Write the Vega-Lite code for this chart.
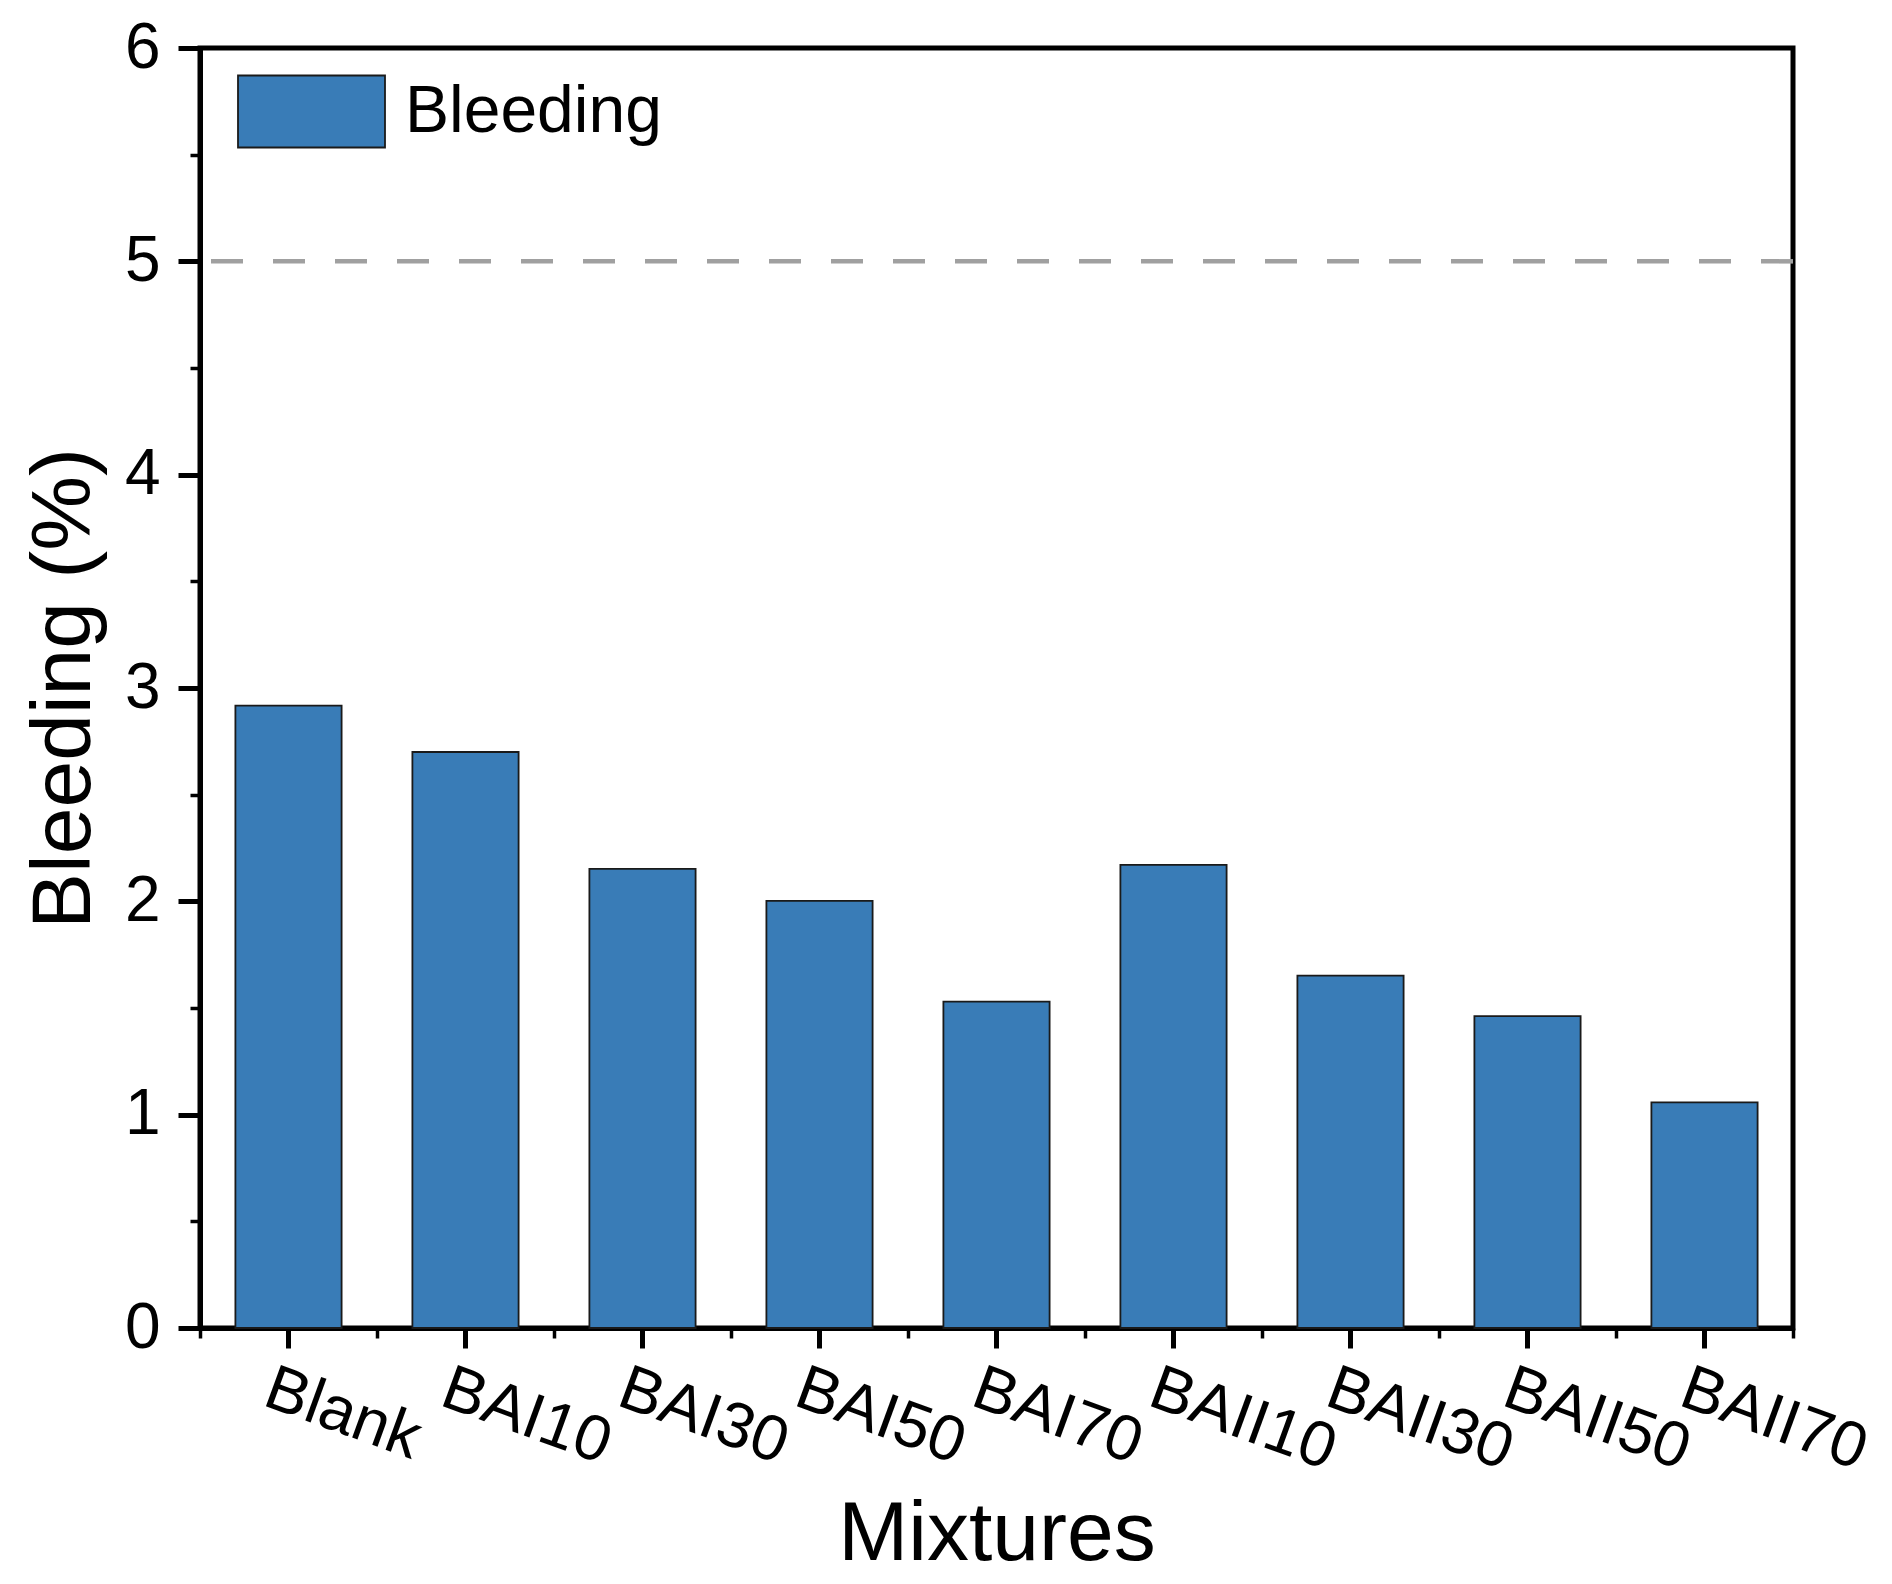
{
  "$schema": "https://vega.github.io/schema/vega-lite/v6.json",
  "width": 1593,
  "height": 1280,
  "autosize": {"type": "none"},
  "padding": {"left": 200, "top": 48, "right": 99, "bottom": 256},
  "background": "white",
  "config": {
    "font": "Liberation Sans",
    "view": {"stroke": "#000000", "strokeWidth": 5},
    "axis": {
      "domainColor": "#000000",
      "tickColor": "#000000",
      "labelColor": "#000000",
      "titleColor": "#000000",
      "labelFont": "Liberation Sans",
      "titleFont": "Liberation Sans",
      "titleFontWeight": "normal",
      "grid": false
    }
  },
  "datasets": {
    "bars": [
      {"mixture": "Blank", "bleeding": 2.917, "series": "Bleeding"},
      {"mixture": "BAI10", "bleeding": 2.70, "series": "Bleeding"},
      {"mixture": "BAI30", "bleeding": 2.152, "series": "Bleeding"},
      {"mixture": "BAI50", "bleeding": 2.002, "series": "Bleeding"},
      {"mixture": "BAI70", "bleeding": 1.530, "series": "Bleeding"},
      {"mixture": "BAII10", "bleeding": 2.171, "series": "Bleeding"},
      {"mixture": "BAII30", "bleeding": 1.652, "series": "Bleeding"},
      {"mixture": "BAII50", "bleeding": 1.462, "series": "Bleeding"},
      {"mixture": "BAII70", "bleeding": 1.058, "series": "Bleeding"}
    ],
    "limit": [{"limit": 5}]
  },
  "resolve": {"scale": {"x": "independent"}, "axis": {"x": "independent", "y": "independent"}},
  "layer": [
    {
      "data": {"name": "bars"},
      "mark": {"type": "bar", "opacity": 0},
      "encoding": {
        "x": {
          "field": "mixture", "type": "nominal", "sort": null,
          "scale": {"paddingInner": 0, "paddingOuter": 0},
          "axis": {
            "orient": "bottom", "title": null, "labels": false, "domain": false,
            "tickBand": "extent", "tickSize": 10, "tickWidth": 3.5
          }
        },
        "y": {
          "field": "bleeding", "type": "quantitative",
          "scale": {"domain": [0, 6], "nice": false, "zero": true},
          "axis": {
            "orient": "left", "title": null, "labels": false, "domain": false,
            "values": [0.5, 1.5, 2.5, 3.5, 4.5, 5.5], "tickSize": 10, "tickWidth": 3.5
          }
        }
      }
    },
    {
      "data": {"name": "limit"},
      "mark": {"type": "rule", "stroke": "#a0a0a0", "strokeWidth": 4.5, "strokeDash": [32, 30]},
      "encoding": {
        "y": {"field": "limit", "type": "quantitative", "axis": null}
      }
    },
    {
      "data": {"name": "bars"},
      "mark": {"type": "bar", "stroke": "#1a1a1a", "strokeWidth": 1.8},
      "encoding": {
        "x": {
          "field": "mixture", "type": "nominal", "sort": null,
          "scale": {"paddingInner": 0.4, "paddingOuter": 0.2},
          "axis": {
            "orient": "bottom", "title": "Mixtures", "titleFontSize": 84, "titlePadding": 12,
            "labelFontSize": 64, "labelAngle": 20, "labelAlign": "left", "labelBaseline": "top",
            "labelOffset": -10, "labelPadding": 8, "labelLimit": 400,
            "tickSize": 20, "tickWidth": 5, "domainWidth": 5
          }
        },
        "y": {
          "field": "bleeding", "type": "quantitative",
          "axis": {
            "orient": "left", "title": "Bleeding (%)", "titleFontSize": 84, "titlePadding": 17,
            "values": [0, 1, 2, 3, 4, 5, 6], "labelFontSize": 64, "labelPadding": 18,
            "tickSize": 22, "tickWidth": 5, "domainWidth": 5
          }
        },
        "color": {
          "field": "series", "type": "nominal",
          "scale": {"range": ["#397cb7"]},
          "legend": {
            "title": null, "orient": "none", "legendX": 37, "legendY": -11,
            "padding": 0,
            "symbolType": "M-1,-0.49L1,-0.49L1,0.49L-1,0.49Z",
            "symbolSize": 21609,
            "symbolStrokeColor": "#1a1a1a", "symbolStrokeWidth": 1.8,
            "symbolFillColor": "#397cb7", "symbolOpacity": 1,
            "labelFontSize": 66, "labelFont": "Liberation Sans", "labelColor": "#000000",
            "labelOffset": 19, "labelLimit": 500
          }
        }
      }
    }
  ]
}
